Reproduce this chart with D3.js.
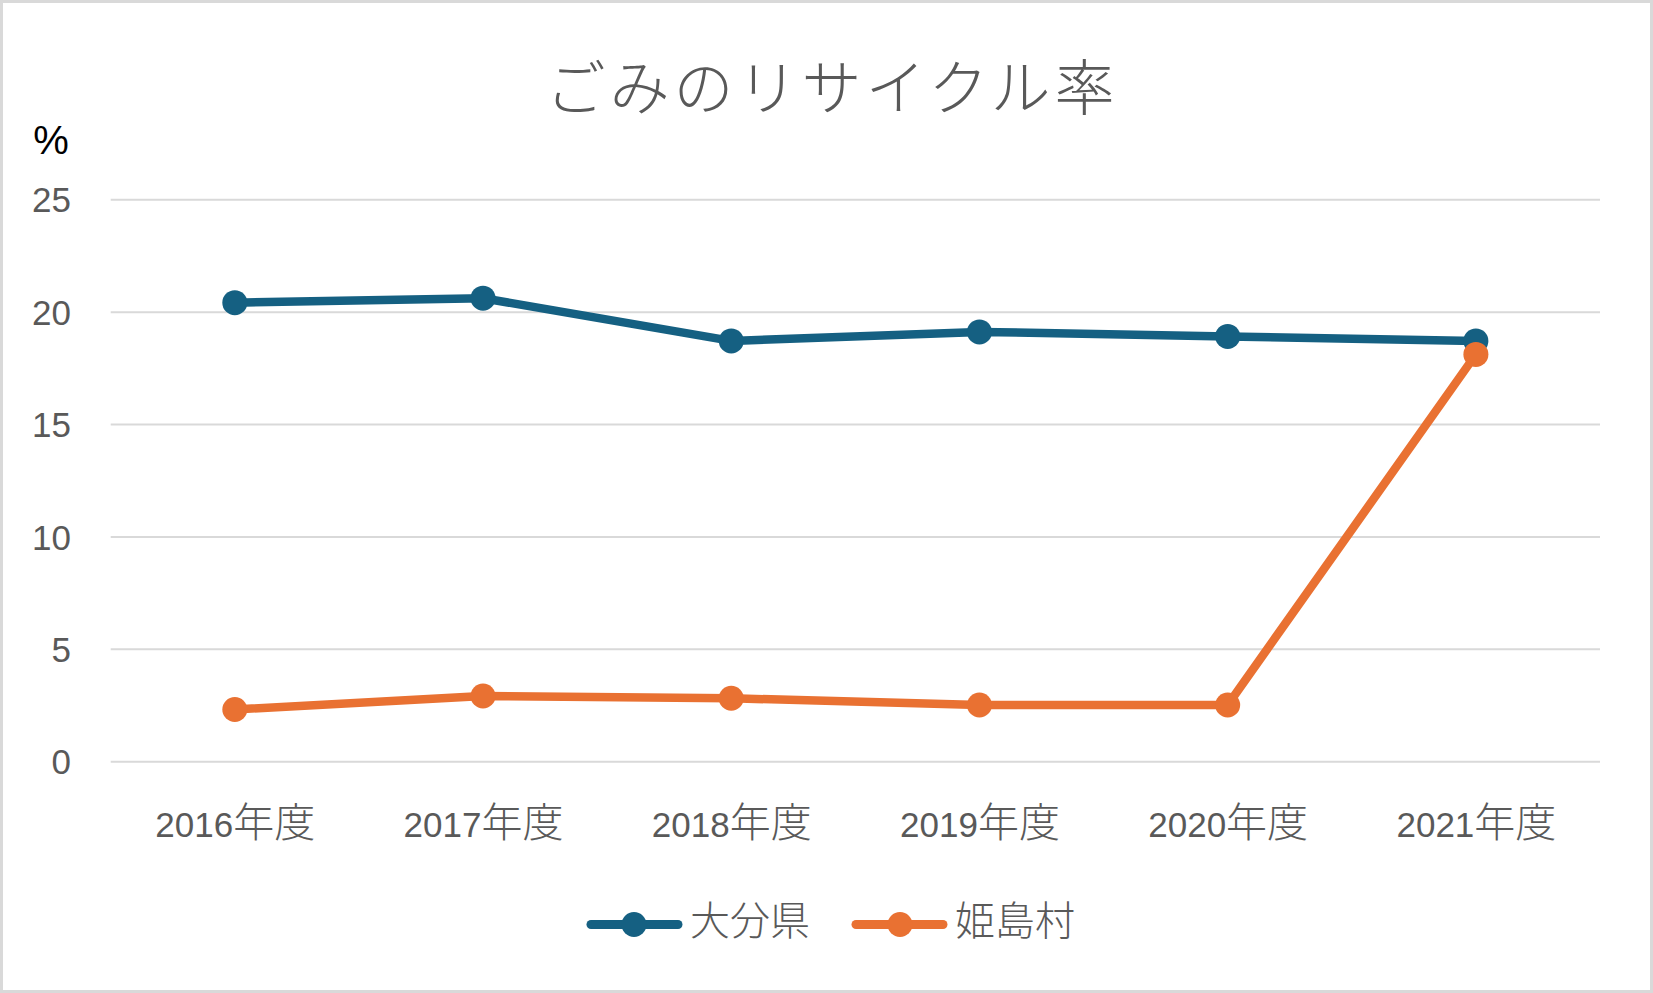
<!DOCTYPE html>
<html>
<head>
<meta charset="utf-8">
<script src="https://cdn.jsdelivr.net/npm/d3@7"></script>
<style>
  html, body { margin: 0; padding: 0; background: #fff; }
  svg { display: block; }
</style>
</head>
<body>
<script>
const categories = ["2016", "2017", "2018", "2019", "2020", "2021"];
const categorySuffix = "年度";
const oitaValues = [20.4, 20.6, 18.7, 19.1, 18.9, 18.7];
const himeshimaValues = [2.3, 2.9, 2.8, 2.5, 2.5, 18.1];
const seriesNames = ["大分県", "姫島村"];
const yTicks = [0, 5, 10, 15, 20, 25];
const titleText = "ごみのリサイクル率";
const unitText = "%";

const W = 1653, H = 993;
const colors = ["#156082", "#E97132"];
const series = [
  { name: seriesNames[0], values: oitaValues, color: colors[0] },
  { name: seriesNames[1], values: himeshimaValues, color: colors[1] }
];

const svg = d3.select("body").append("svg").attr("width", W).attr("height", H);

svg.append("rect").attr("x", 1.5).attr("y", 1.5).attr("width", W - 3).attr("height", H - 3)
  .attr("fill", "#fff").attr("stroke", "#d9d9d9").attr("stroke-width", 3);

const plotLeft = 110.7, plotRight = 1600, plotTop = 199.3, plotBottom = 761.2;

const x = d3.scalePoint().domain(categories).range([plotLeft, plotRight]).padding(0.5);
const y = d3.scaleLinear().domain([0, 25]).range([plotBottom, plotTop]);

// title
svg.append("text").attr("x", 832).attr("y", 110)
  .attr("text-anchor", "middle")
  .style("font-family", "'Noto Sans CJK JP', sans-serif")
  .style("font-weight", 300)
  .style("letter-spacing", "4px")
  .style("font-size", "60px").attr("fill", "#595959").text(titleText);

// unit
svg.append("text").attr("x", 51).attr("y", 154).attr("text-anchor", "middle")
  .style("font-family", "'Liberation Sans', Arial, sans-serif")
  .style("font-size", "40px").attr("fill", "#000").text(unitText);

// gridlines
const yAxis = d3.axisLeft(y).tickValues(yTicks).tickSize(-(plotRight - plotLeft)).tickFormat(d3.format("d")).tickPadding(40);
const gY = svg.append("g").attr("transform", `translate(${plotLeft},0)`).call(yAxis);
gY.select(".domain").remove();
gY.selectAll(".tick line").attr("stroke", "#d9d9d9").attr("stroke-width", 2);
gY.selectAll(".tick text")
  .attr("x", 71 - plotLeft)
  .attr("dy", "0.36em")
  .style("font-family", "'Liberation Sans', Arial, sans-serif")
  .style("font-size", "35px").attr("fill", "#595959");

// x axis labels
const xAxis = d3.axisBottom(x).tickSize(0).tickFormat(() => "");
const gX = svg.append("g").attr("transform", `translate(0,${plotBottom})`).call(xAxis);
gX.select(".domain").remove();
gX.selectAll(".tick").each(function(d) {
  const t = d3.select(this).append("text")
    .attr("y", 836.7 - plotBottom)
    .attr("text-anchor", "middle")
    .attr("fill", "#595959");
  t.append("tspan").text(d)
    .style("font-family", "'Liberation Sans', Arial, sans-serif")
    .style("font-size", "35px");
  t.append("tspan").text(categorySuffix)
    .style("font-family", "'Noto Sans CJK JP', sans-serif")
    .style("font-weight", 300)
    .style("font-size", "41px");
});

// lines
const line = d3.line().x((d, i) => x(categories[i])).y(d => y(d));
series.forEach(s => {
  const g = svg.append("g");
  g.append("path").datum(s.values).attr("d", line)
    .attr("fill", "none").attr("stroke", s.color).attr("stroke-width", 8.5)
    .attr("stroke-linejoin", "round");
  g.selectAll("circle").data(s.values).join("circle")
    .attr("cx", (d, i) => x(categories[i])).attr("cy", d => y(d))
    .attr("r", 12.5).attr("fill", s.color);
});

// legend
const legendItems = [
  { x0: 587, x1: 682, cx: 634, tx: 690 },
  { x0: 852, x1: 947, cx: 900, tx: 955 }
];
const ly = 924.5;
series.forEach((s, i) => {
  const L = legendItems[i];
  const g = svg.append("g");
  g.append("line").attr("x1", L.x0 + 4).attr("x2", L.x1 - 4).attr("y1", ly).attr("y2", ly)
    .attr("stroke", s.color).attr("stroke-width", 9).attr("stroke-linecap", "round");
  g.append("circle").attr("cx", L.cx).attr("cy", ly).attr("r", 12.5).attr("fill", s.color);
  g.append("text").attr("x", L.tx).attr("y", 935)
    .style("font-family", "'Noto Sans CJK JP', sans-serif")
    .style("font-weight", 300)
    .style("font-size", "40px").attr("fill", "#595959").text(s.name);
});
</script>
</body>
</html>
